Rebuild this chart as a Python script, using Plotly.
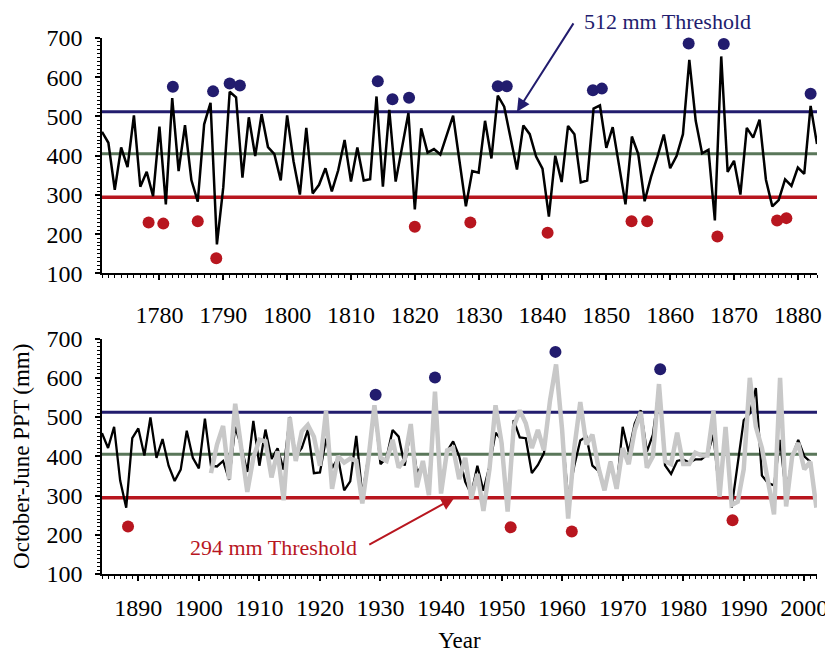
import plotly.graph_objects as go
from plotly.subplots import make_subplots

# ---------------- data ----------------
top_start = 1771
top_ppt = [
    461, 433, 313, 421, 371, 503, 321, 359, 297,
    474, 276, 547, 361, 478, 338, 283, 480, 535, 174,
    320, 563, 549, 344, 498, 399, 506, 422, 404, 337,
    503, 386, 301, 471, 304, 326, 368, 309, 363, 440,
    334, 421, 337, 340, 551, 321, 517, 334, 422, 509,
    263, 470, 408, 417, 403, 453, 502, 386, 271, 361,
    357, 489, 393, 553, 525, 445, 365, 477, 455, 398,
    367, 245, 400, 333, 476, 455, 332, 337, 520, 528,
    420, 473, 375, 276, 449, 404, 284, 346, 397, 454,
    368, 399, 455, 644, 489, 406, 415, 235, 653, 359,
    387, 301, 471, 446, 492, 339, 271, 287, 340, 323,
    370, 354, 527, 430,
]

bot_black_start = 1884
bot_black = [
    459, 421, 475, 338, 269, 446,
    471, 402, 499, 396, 444, 376, 337, 366, 465, 396,
    369, 496, 376, 374, 388, 340, 475, 425, 360, 490,
    376, 468, 393, 420, 366, 500, 400, 421, 467, 357,
    359, 445, 370, 395, 313, 336, 452, 300, 400, 525,
    380, 396, 467, 450, 376, 470, 360, 376, 330, 555,
    320, 413, 438, 400, 335, 303, 376, 312, 375, 460,
    442, 262, 492, 448, 446, 357, 378, 408, 540, 630,
    465, 292, 375, 440, 450, 376, 363, 315, 386, 317,
    475, 410, 484, 517, 412, 455, 575, 377, 355, 388,
    392, 384, 392, 392, 405, 455, 300, 470, 269, 384,
    492, 509, 574, 351, 332, 326, 442, 300, 400, 442,
    400, 386,
]

bot_gray_start = 1902
bot_gray = [
    357, 430, 477, 341, 534, 420, 309, 396,
    442, 438, 346, 413, 288, 499, 388, 463, 480, 450,
    376, 515, 317, 400, 384, 394, 388, 280, 392, 530,
    396, 388, 442, 371, 392, 482, 321, 388, 301, 565,
    305, 415, 421, 342, 396, 292, 355, 261, 367, 530,
    434, 259, 475, 517, 484, 421, 467, 415, 542, 634,
    467, 241, 420, 538, 430, 455, 371, 313, 386, 317,
    421, 380, 467, 513, 371, 400, 584, 388, 380, 460,
    380, 380, 409, 402, 402, 515, 297, 475, 276, 284,
    367, 600, 475, 421, 338, 252, 600, 272, 400, 434,
    367, 386, 269,
]

top_wet_years = [1782.1, 1788.4, 1791.0, 1792.6, 1814.2, 1816.5, 1819.1,
                 1833.0, 1834.4, 1847.9, 1849.3, 1862.9, 1868.4, 1882.0]
top_wet_vals = [576, 564, 584, 579, 590, 544, 548, 577, 577, 567, 571, 686, 685, 558]
top_dry_years = [1778.3, 1780.6, 1786.0, 1788.9, 1820.0, 1828.7, 1840.8,
                 1853.95, 1856.4, 1867.4, 1876.75, 1878.2]
top_dry_vals = [230, 227, 233, 139, 219, 230, 204, 233, 233, 194, 235, 241]

bot_wet_years = [1929.2, 1939.0, 1958.9, 1976.2]
bot_wet_vals = [557, 601, 666, 622]
bot_dry_years = [1888.3, 1951.5, 1961.6, 1988.15, 2002.6]
bot_dry_vals = [221, 219, 208, 237, 240]

wet_threshold = 512
mean_level = 405
dry_threshold = 294

y_ticks = [100, 200, 300, 400, 500, 600, 700]
top_xticks = list(range(1780, 1890, 10))
bot_xticks = list(range(1890, 2010, 10))

# ---------------- style ----------------
NAVY = "#221c6e"
RED = "#b8161f"
GREEN = "#5a775a"
GRAY = "#c8c8c8"
FONT = "Liberation Serif"

top_years = list(range(top_start, top_start + len(top_ppt)))
black_years = list(range(bot_black_start, bot_black_start + len(bot_black)))
gray_years = list(range(bot_gray_start, bot_gray_start + len(bot_gray)))

fig = make_subplots(rows=2, cols=1)

# top panel
fig.add_trace(go.Scatter(x=top_years, y=top_ppt, mode="lines",
                         line=dict(color="black", width=2.5), showlegend=False), row=1, col=1)
fig.add_trace(go.Scatter(x=top_wet_years, y=top_wet_vals, mode="markers", cliponaxis=False,
                         marker=dict(color=NAVY, size=12), showlegend=False), row=1, col=1)
fig.add_trace(go.Scatter(x=top_dry_years, y=top_dry_vals, mode="markers", cliponaxis=False,
                         marker=dict(color=RED, size=12), showlegend=False), row=1, col=1)

# bottom panel
fig.add_trace(go.Scatter(x=black_years, y=bot_black, mode="lines",
                         line=dict(color="black", width=2.3), showlegend=False), row=2, col=1)
fig.add_trace(go.Scatter(x=gray_years, y=bot_gray, mode="lines",
                         line=dict(color=GRAY, width=4.5), showlegend=False), row=2, col=1)
fig.add_trace(go.Scatter(x=bot_wet_years, y=bot_wet_vals, mode="markers", cliponaxis=False,
                         marker=dict(color=NAVY, size=12), showlegend=False), row=2, col=1)
fig.add_trace(go.Scatter(x=bot_dry_years, y=bot_dry_vals, mode="markers", cliponaxis=False,
                         marker=dict(color=RED, size=12), showlegend=False), row=2, col=1)

# threshold lines
for xr, yr in [("x", "y"), ("x2", "y2")]:
    for val, col, w in [(wet_threshold, NAVY, 3), (mean_level, GREEN, 3), (dry_threshold, RED, 3.5)]:
        fig.add_shape(type="line", xref=xr + " domain", yref=yr, x0=0, x1=1, y0=val, y1=val,
                      line=dict(color=col, width=w), layer="below")

TICKFONT = dict(family=FONT, size=24, color="black")
axis_common = dict(showline=True, linecolor="black", linewidth=1.5, ticks="outside",
                   ticklen=5, tickwidth=1.5, tickcolor="black", showgrid=False, zeroline=False)

fig.update_layout(
    width=833, height=653,
    margin=dict(l=89, r=24, t=30, b=79),
    paper_bgcolor="white", plot_bgcolor="white",
    font=dict(family=FONT, size=24, color="black"),
    xaxis=dict(domain=[0, 1], range=[1771, 1883], tickmode="array", tickvals=top_xticks,
               tickfont=TICKFONT, ticklabelstandoff=14,
               minor=dict(dtick=1, ticklen=3, ticks="outside", tickcolor="black", tickwidth=1.2),
               **axis_common),
    xaxis2=dict(domain=[0, 1], range=[1884, 2002.1], tickmode="array", tickvals=bot_xticks,
                tickfont=TICKFONT, ticklabelstandoff=6,
                minor=dict(dtick=1, tick0=1884, ticklen=3, ticks="outside", tickcolor="black", tickwidth=1.2),
                title=dict(text="Year", font=dict(family=FONT, size=23, color="black"), standoff=12),
                **axis_common),
    yaxis=dict(domain=[0.5607, 1], range=[100, 700], tickmode="array", tickvals=y_ticks,
               tickfont=TICKFONT, ticklabelstandoff=8,
               minor=dict(dtick=10, ticklen=3, ticks="outside", tickcolor="black", tickwidth=1.2),
               **axis_common),
    yaxis2=dict(domain=[0, 0.4393], range=[100, 700], tickmode="array", tickvals=y_ticks,
                tickfont=TICKFONT, ticklabelstandoff=8,
                minor=dict(dtick=10, ticklen=3, ticks="outside", tickcolor="black", tickwidth=1.2),
                title=dict(text="October-June PPT (mm)", font=dict(family=FONT, size=23, color="black"),
                           standoff=10),
                **axis_common),
)

# annotations
fig.add_annotation(xref="x", yref="y", axref="x", ayref="y", x=1836.0, y=512, ax=1845.0, ay=741,
                   text="", showarrow=True, arrowhead=2, arrowsize=1.3, arrowwidth=2, arrowcolor=NAVY)
fig.add_annotation(xref="paper", yref="paper", x=0.7913, y=1.031, xanchor="center", yanchor="middle",
                   text="512 mm Threshold", showarrow=False,
                   font=dict(family=FONT, size=22, color=NAVY))
fig.add_annotation(xref="x2", yref="y2", axref="x2", ayref="y2", x=1942.2, y=294, ax=1927.9, ay=173,
                   text="", showarrow=True, arrowhead=2, arrowsize=1.3, arrowwidth=2, arrowcolor=RED)
fig.add_annotation(xref="x2", yref="y2", x=1912.3, y=168, text="294 mm Threshold", showarrow=False,
                   font=dict(family=FONT, size=22, color=RED))

fig.write_html("out.html")
